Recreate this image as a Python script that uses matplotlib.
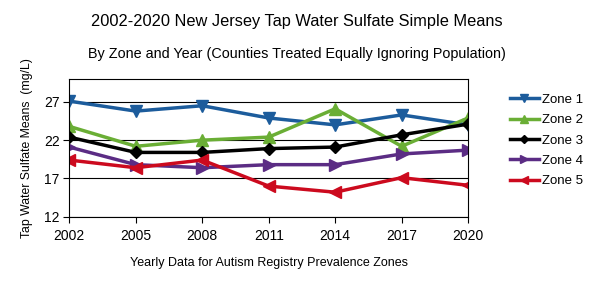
import matplotlib.pyplot as plt
import numpy as np

plt.rcParams['font.family'] = ['Liberation Sans', 'DejaVu Sans']

years = [2002, 2005, 2008, 2011, 2014, 2017, 2020]
zone1 = [27.1, 25.8, 26.5, 24.9, 24.0, 25.3, 24.0]
zone2 = [23.8, 21.2, 22.0, 22.4, 26.1, 21.2, 24.9]
zone3 = [22.4, 20.4, 20.4, 20.9, 21.1, 22.7, 24.1]
zone4 = [21.1, 18.8, 18.4, 18.8, 18.8, 20.2, 20.7]
zone5 = [19.4, 18.4, 19.4, 16.0, 15.2, 17.1, 16.1]

series = [zone1, zone2, zone3, zone4, zone5]
names = ['Zone 1', 'Zone 2', 'Zone 3', 'Zone 4', 'Zone 5']
colors = ['#1c5c9c', '#6aae35', '#000000', '#5b2c84', '#cc0a1e']
markers = ['v', '^', 'D', '>', '<']
msizes = [8, 8, 6, 8, 8]

fig = plt.figure(figsize=(5.94, 2.82), dpi=100)
ax = fig.add_axes([0.1167, 0.2316, 0.6713, 0.4884])

for vals, name, c, m, ms in zip(series, names, colors, markers, msizes):
    ax.plot(years, vals, color=c, marker=m, markersize=ms, lw=2.5, label=name)

ax.set_xlim(2002, 2020)
ax.set_ylim(12, 30)
ax.set_xticks(years)
ax.set_yticks([12, 17, 22, 27])
ax.grid(axis='y', color='black', lw=0.8)
ax.set_axisbelow(True)
for s in ax.spines.values():
    s.set_linewidth(0.8)
ax.tick_params(labelsize=10, length=4, width=0.8)
ax.tick_params(axis='x', pad=5)
ax.tick_params(axis='y', pad=3)

ax.set_xlabel('Yearly Data for Autism Registry Prevalence Zones', fontsize=9, labelpad=10)
ax.set_ylabel('Tap Water Sulfate Means  (mg/L)', fontsize=8.8, labelpad=8)

fig.text(0.5, 0.925, '2002-2020 New Jersey Tap Water Sulfate Simple Means', ha='center', va='center', fontsize=11.8)
fig.text(0.5, 0.81, 'By Zone and Year (Counties Treated Equally Ignoring Population)', ha='center', va='center', fontsize=10.4)

ax.legend(loc='upper left', bbox_to_anchor=(1.075, 0.98), frameon=False, fontsize=9.5,
          handlelength=2.2, handletextpad=0.25, labelspacing=0.62, markerscale=0.7)

fig.savefig('out.png', dpi=100)
